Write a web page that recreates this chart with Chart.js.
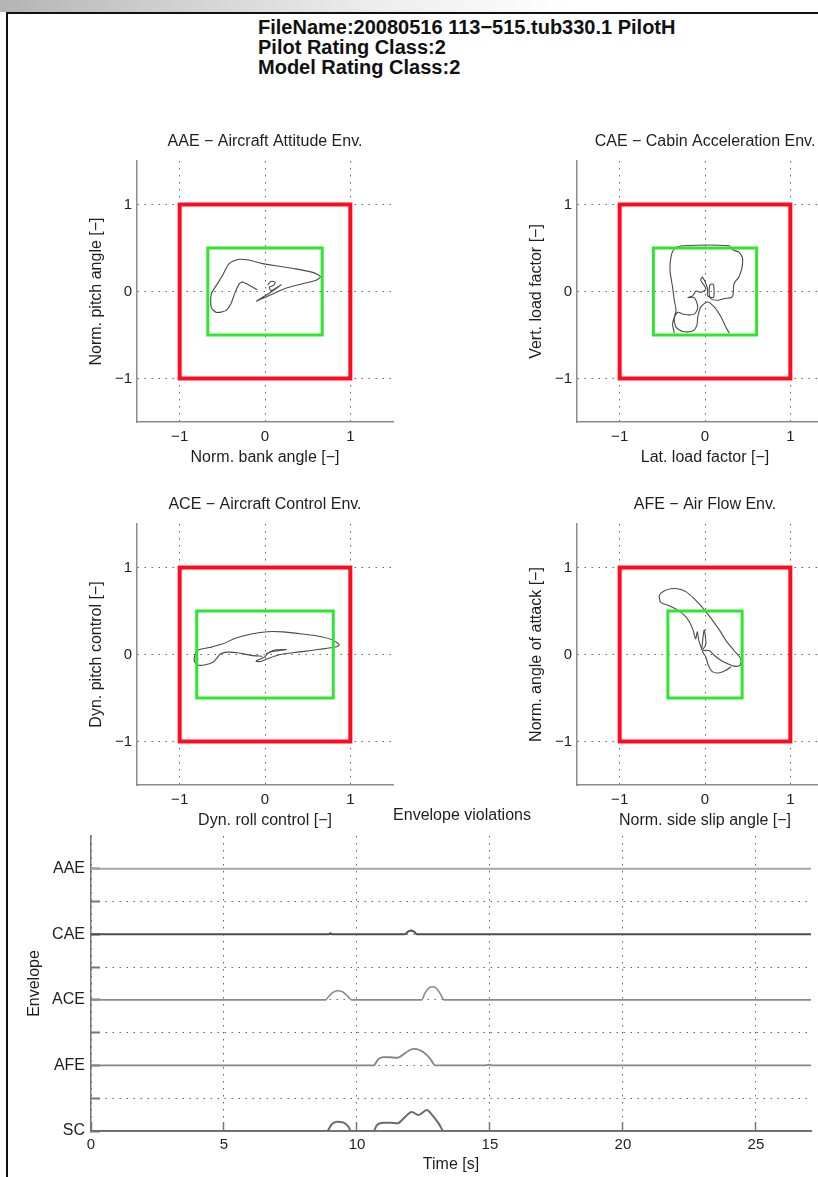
<!DOCTYPE html>
<html>
<head>
<meta charset="utf-8">
<script src="https://cdn.jsdelivr.net/npm/chart.js@4.4.0/dist/chart.umd.min.js"></script>
<style>
html, body { margin: 0; padding: 0; background: #fff; width: 818px; height: 1177px; overflow: hidden; }
body { position: relative; font-family: 'Liberation Sans', Arial, sans-serif; }
#topband { position: absolute; left: 0; top: 0; width: 818px; height: 12px;
  background: linear-gradient(to right, #b4b4b4 0%, #cfcfcf 20%, #ececec 45%, #fff 70%); }
#frame { position: absolute; left: 6px; top: 12px; width: 840px; height: 1200px;
  border-left: 2px solid #111; border-top: 2px solid #111; }
#head { position: absolute; left: 258px; top: 17px; font-weight: bold; font-size: 20px;
  line-height: 20px; color: #111; white-space: nowrap; }
canvas { position: absolute; }
</style>
</head>
<body>
<div id="topband"></div>
<div id="frame"></div>
<div id="head">FileName:20080516 113−515.tub330.1 PilotH<br>Pilot Rating Class:2<br>Model Rating Class:2</div>

<canvas id="cAAE" width="380" height="350" style="left:40px;top:120px"></canvas>
<canvas id="cCAE" width="380" height="350" style="left:480px;top:120px"></canvas>
<canvas id="cACE" width="380" height="350" style="left:40px;top:483px"></canvas>
<canvas id="cAFE" width="380" height="350" style="left:480px;top:483px"></canvas>
<canvas id="cEnv" width="924" height="377" style="left:0px;top:800px"></canvas>

<script>
// ---- envelope trajectories (normalised coordinates) ----
const aaeX = [-0.09, -0.26, -0.30, -0.35, -0.40, -0.46, -0.57, -0.63, -0.63, -0.57, -0.50, -0.42, -0.30, -0.18, -0.03, 0.17, 0.36, 0.56, 0.65, 0.60, 0.44, 0.25, 0.09, -0.03, -0.10, 0.05, 0.19, 0.13, 0.07, 0.05, 0.10, 0.12, 0.07, 0.03];
const aaeY = [0.02, 0.11, 0.09, -0.01, -0.14, -0.22, -0.24, -0.18, -0.03, 0.07, 0.18, 0.32, 0.37, 0.36, 0.32, 0.29, 0.26, 0.22, 0.17, 0.13, 0.09, 0.04, -0.03, -0.08, -0.11, -0.02, 0.077, 0.04, 0.01, 0.05, 0.07, 0.107, 0.115, 0.077];

const caeX = [-0.36, -0.38, -0.34, -0.36, -0.38, -0.41, -0.40, -0.36, -0.26, 0.285, 0.325, 0.40, 0.44, 0.43, 0.395, 0.34, 0.33, 0.31, 0.23, 0.15, 0.07, 0.05, 0.06, 0.10, 0.10, 0.03, 0.03, -0.03, -0.05, 0.01, -0.05, -0.105, -0.145, -0.20, -0.125, -0.085, -0.125, -0.24, -0.32, -0.36, -0.34, -0.26, -0.145, -0.095, -0.085, -0.05, 0.03, 0.11, 0.19, 0.245, 0.285];
const caeY = [-0.48, -0.37, -0.22, -0.10, 0.05, 0.24, 0.39, 0.49, 0.525, 0.525, 0.48, 0.45, 0.38, 0.26, 0.165, 0.09, -0.03, -0.07, -0.08, -0.10, -0.085, -0.03, 0.08, 0.08, -0.065, -0.05, 0.03, 0.165, 0.13, 0.03, -0.01, 0.005, -0.05, -0.07, -0.07, -0.18, -0.26, -0.265, -0.24, -0.31, -0.41, -0.46, -0.455, -0.39, -0.295, -0.18, -0.12, -0.18, -0.295, -0.41, -0.48];

const aceX = [-0.03, -0.16, -0.32, -0.44, -0.52, -0.555, -0.61, -0.71, -0.79, -0.83, -0.82, -0.79, -0.65, -0.50, -0.34, -0.16, 0.03, 0.21, 0.44, 0.66, 0.80, 0.87, 0.84, 0.70, 0.54, 0.38, 0.23, 0.11, 0.03, -0.05, -0.105, -0.008, 0.05, 0.13, 0.25, 0.09, 0.012];
const aceY = [-0.02, -0.01, 0.02, 0.027, 0.008, -0.03, -0.09, -0.12, -0.12, -0.07, -0.004, 0.05, 0.08, 0.12, 0.19, 0.235, 0.262, 0.26, 0.235, 0.205, 0.165, 0.11, 0.09, 0.068, 0.046, 0.027, 0.008, -0.019, -0.05, -0.08, -0.077, -0.03, 0.027, 0.054, 0.057, 0.034, 0.008];

const afeX = [-0.04, -0.01, 0.01, -0.03, -0.07, -0.09, -0.11, -0.14, -0.18, -0.24, -0.32, -0.42, -0.48, -0.52, -0.535, -0.48, -0.40, -0.32, -0.22, -0.125, -0.047, 0.012, 0.09, 0.17, 0.246, 0.34, 0.42, 0.41, 0.34, 0.266, 0.19, 0.11, 0.05, -0.03, 0.01, 0.04, 0.09, 0.17, 0.246, 0.305];
const afeY = [0.05, 0.28, 0.12, 0.06, 0.15, 0.26, 0.18, 0.28, 0.37, 0.45, 0.51, 0.56, 0.58, 0.60, 0.68, 0.73, 0.755, 0.755, 0.72, 0.64, 0.56, 0.49, 0.39, 0.28, 0.16, 0.046, -0.05, -0.126, -0.134, -0.107, -0.07, -0.011, 0.046, 0.04, -0.03, -0.126, -0.20, -0.21, -0.18, -0.14];

// half widths of the inner (green) envelope per plot: [x, y]
const innerAAE = [0.67, 0.5];
const innerCAE = [0.605, 0.5];
const innerACE = [0.80, 0.5];
const innerAFE = [0.435, 0.5];
const outerHalf = [1, 1];
const axisTicks = [-1, 0, 1];

// ---- envelope violations over time ----
const envNames = ['AAE', 'CAE', 'ACE', 'AFE', 'SC'];
const envLevels = [4, 3, 2, 1, 0];
const timeTicks = [0, 5, 10, 15, 20, 25];
const aaeT = [0, 27.07];
const aaeV = [0, 0];
const caeT = [0, 8.95, 9.0, 9.06, 11.8, 11.92, 12.03, 12.14, 12.26, 27.07];
const caeV = [0, 0, 0.015, 0, 0, 0.04, 0.06, 0.04, 0, 0];
const aceT = [0, 8.82, 8.95, 9.1, 9.25, 9.45, 9.62, 9.8, 12.44, 12.55, 12.7, 12.85, 13.0, 13.15, 13.27, 27.07];
const aceV = [0, 0, 0.06, 0.115, 0.14, 0.125, 0.07, 0, 0, 0.1, 0.18, 0.2, 0.17, 0.08, 0, 0];
const afeT = [0, 10.62, 10.81, 11.0, 11.25, 11.5, 11.82, 12.0, 12.19, 12.5, 12.76, 12.94, 14.8, 14.95, 15.1, 27.07];
const afeV = [0, 0, 0.10, 0.127, 0.125, 0.117, 0.19, 0.24, 0.254, 0.2, 0.10, 0, 0, 0.012, 0, 0];
const scT = [0, 8.87, 9.06, 9.25, 9.5, 9.68, 9.77, 10.62, 10.75, 11.0, 11.25, 11.53, 11.75, 12.06, 12.31, 12.63, 12.82, 13.07, 13.26, 27.07];
const scV = [0, 0, 0.107, 0.142, 0.127, 0.065, 0, 0, 0.09, 0.127, 0.125, 0.117, 0.19, 0.29, 0.245, 0.32, 0.245, 0.117, 0, 0];

Chart.defaults.font.family = "'Liberation Sans', Arial, sans-serif";
Chart.defaults.color = '#1e1e1e';
Chart.defaults.animation = false;

const DOTS = [1.5, 5.5];
const minusFmt = v => (v < 0 ? '\u2212' + Math.abs(v) : String(v));
const fixedTicks = vals => s => { s.ticks = vals.map(v => ({ value: v })); };
const rect = (hx, hy) => [
  { x: -hx, y: -hy }, { x: -hx, y: hy }, { x: hx, y: hy }, { x: hx, y: -hy }, { x: -hx, y: -hy }
];
const pairs = (xs, ys) => xs.map((x, i) => ({ x, y: ys[i] }));

function envelopePlot(id, title, xLabel, yLabel, xs, ys, inner) {
  new Chart(document.getElementById(id), {
    type: 'scatter',
    data: {
      datasets: [
        { data: rect(outerHalf[0], outerHalf[1]), showLine: true, borderColor: '#ff0a1e', borderWidth: 4,
          pointRadius: 0, borderCapStyle: 'square', borderJoinStyle: 'miter' },
        { data: rect(inner[0], inner[1]), showLine: true, borderColor: '#2fe62f', borderWidth: 3,
          pointRadius: 0, borderCapStyle: 'square', borderJoinStyle: 'miter' },
        { data: pairs(xs, ys), showLine: true, borderColor: '#4a4a4a', borderWidth: 1.1,
          pointRadius: 0, tension: 0.25 }
      ]
    },
    options: {
      responsive: false,
      events: [],
      layout: { padding: { left: 0, right: 27, top: 0, bottom: 0 } },
      plugins: {
        legend: { display: false },
        tooltip: { enabled: false },
        title: { display: true, text: title, fullSize: false, color: '#1e1e1e',
          font: { size: 16, weight: 'normal' }, padding: { top: 12.4, bottom: 9.4 } }
      },
      scales: {
        x: {
          type: 'linear', min: -1.5, max: 1.5,
          afterBuildTicks: fixedTicks(axisTicks),
          afterFit: s => { s.height = 48; },
          grid: { color: '#666', lineWidth: 1, drawTicks: false, borderDash: DOTS },
          border: { color: '#8c8c8c', width: 1.5, dash: DOTS },
          ticks: { padding: 6, font: { size: 15 }, autoSkip: false, maxRotation: 0, callback: minusFmt },
          title: { display: true, text: xLabel, font: { size: 16 }, padding: { top: 0, bottom: 2.4 } }
        },
        y: {
          type: 'linear', min: -1.5, max: 1.5,
          afterBuildTicks: fixedTicks(axisTicks),
          afterFit: s => { s.width = 97; },
          grid: { color: '#666', lineWidth: 1, drawTicks: false, borderDash: DOTS },
          border: { color: '#8c8c8c', width: 1.5, dash: DOTS },
          ticks: { padding: 5, font: { size: 15 }, autoSkip: false, callback: minusFmt },
          title: { display: true, text: yLabel, font: { size: 16 }, padding: { top: 47.4, bottom: 0 } }
        }
      }
    }
  });
}

envelopePlot('cAAE', 'AAE \u2212 Aircraft Attitude Env.', 'Norm. bank angle [\u2212]', 'Norm. pitch angle [\u2212]', aaeX, aaeY, innerAAE);
envelopePlot('cCAE', 'CAE \u2212 Cabin Acceleration Env.', 'Lat. load factor [\u2212]', 'Vert. load factor [\u2212]', caeX, caeY, innerCAE);
envelopePlot('cACE', 'ACE \u2212 Aircraft Control Env.', 'Dyn. roll control [\u2212]', 'Dyn. pitch control [\u2212]', aceX, aceY, innerACE);
envelopePlot('cAFE', 'AFE \u2212 Air Flow Env.', 'Norm. side slip angle [\u2212]', 'Norm. angle of attack [\u2212]', afeX, afeY, innerAFE);

// violation traces, each drawn on its own level
const envT = [aaeT, caeT, aceT, afeT, scT];
const envV = [aaeV, caeV, aceV, afeV, scV];
const envColors = ['#a6a6a6', '#4e4e4e', '#8a8a8a', '#858585', '#6a6a6a'];
const envWidths = [2, 2, 1.6, 1.8, 2];

new Chart(document.getElementById('cEnv'), {
  type: 'scatter',
  data: {
    datasets: envNames.map((n, k) => ({
      label: n,
      data: envT[k].map((t, i) => ({ x: t, y: envLevels[k] + envV[k][i] })),
      showLine: true, pointRadius: 0, borderColor: envColors[k], borderWidth: envWidths[k],
      cubicInterpolationMode: 'monotone'
    }))
  },
  options: {
    responsive: false,
    events: [],
    layout: { padding: 0 },
    plugins: {
      legend: { display: false },
      tooltip: { enabled: false },
      title: { display: true, text: 'Envelope violations', color: '#1e1e1e',
        font: { size: 16, weight: 'normal' }, padding: { top: 6.4, bottom: 10.4 } }
    },
    scales: {
      x: {
        type: 'linear', min: 0, max: 27.07,
        afterBuildTicks: fixedTicks(timeTicks),
        afterFit: s => { s.height = 46; },
        grid: { color: '#666', lineWidth: 1, drawTicks: true, tickLength: -9, tickColor: '#777',
          tickWidth: 1.5, borderDash: DOTS },
        border: { color: '#777', width: 2, dash: DOTS },
        ticks: { padding: 14, font: { size: 15 }, autoSkip: false, maxRotation: 0 },
        title: { display: true, text: 'Time [s]', font: { size: 16 }, padding: { top: 0, bottom: 2.4 } }
      },
      y: {
        type: 'linear', min: 0, max: 4.5,
        afterBuildTicks: fixedTicks([0, 0.5, 1, 1.5, 2, 2.5, 3, 3.5, 4]),
        afterFit: s => { s.width = 91; },
        grid: { color: '#666', lineWidth: 1, drawTicks: true, tickLength: -9, tickColor: '#777',
          tickWidth: 2, borderDash: DOTS },
        border: { color: '#777', width: 1.5, dash: DOTS },
        ticks: { padding: 15, font: { size: 16 }, autoSkip: false,
          callback: v => { const k = envLevels.indexOf(v); return k >= 0 ? envNames[k] : ''; } },
        title: { display: true, text: 'Envelope', font: { size: 16 }, padding: { top: 25.4, bottom: 0 } }
      },
      yR: {
        type: 'linear', position: 'right', display: true,
        grid: { display: false }, border: { display: false }, ticks: { display: false },
        afterFit: s => { s.width = 113; }
      }
    }
  }
});
</script>
</body>
</html>
